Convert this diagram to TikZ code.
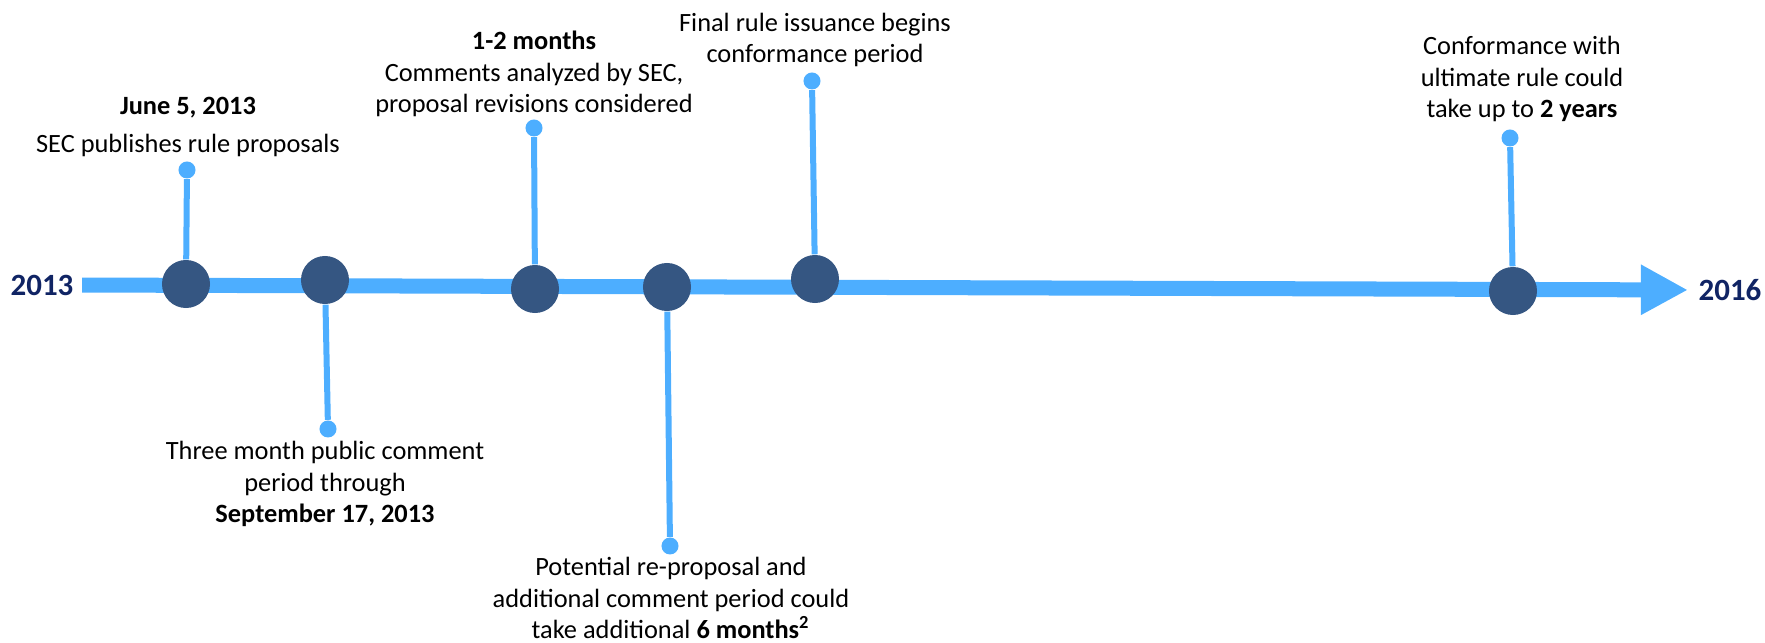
\documentclass[tikz,border=0pt]{standalone}
\usepackage{fontspec}
\setmainfont{Carlito}
\usetikzlibrary{arrows.meta}
\definecolor{lineblue}{RGB}{77,174,255}
\definecolor{eventblue}{RGB}{53,86,130}
\definecolor{yearblue}{RGB}{16,36,100}
\begin{document}
\begin{tikzpicture}[x=0.01cm, y=-0.01cm,
    year/.style={font=\fontsize{8.8}{10}\selectfont\bfseries, text=yearblue, inner sep=0pt},
    event/.style={circle, fill=eventblue, minimum size=0.48cm, inner sep=0pt},
    pin/.style={circle, fill=lineblue, minimum size=0.17cm, inner sep=0pt},
    stem/.style={draw=lineblue, line width=0.06cm},
    label/.style={font=\fontsize{7.5}{9}\selectfont, align=center, anchor=base, inner sep=0pt}]
    \useasboundingbox (0,0) rectangle (1765,643);

    % Years
    \node[year] (y13) at (42,285) {2013};
    \node[year] (y16) at (1730,290) {2016};

    % Time line
    \draw[line width=0.15cm, lineblue, shorten <=0.08cm, shorten >=0.1cm,
        -{Triangle[length=0.47cm, width=0.47cm]}] (y13.east) -- (y16.west);

    % Events
    \node[event] (e1) at (186,284) {};
    \node[event] (e2) at (325,280) {};
    \node[event] (e3) at (535,289) {};
    \node[event] (e4) at (667,287) {};
    \node[event] (e5) at (815,279) {};
    \node[event] (e6) at (1513,291) {};

    % Pins
    \node[pin] (d1) at (187,170) {};
    \node[pin] (d2) at (328,429) {};
    \node[pin] (d3) at (534,128) {};
    \node[pin] (d4) at (670,546) {};
    \node[pin] (d5) at (812,81) {};
    \node[pin] (d6) at (1510,138) {};

    \foreach \i in {1,...,6}
        \draw[stem] (e\i) -- (d\i);

    % Labels (placed at the baseline of the last line)
    \node[label] (t1) at (188,153) {\bfseries June 5, 2013\\[2pt]SEC publishes rule proposals};
    \node[label] (t2) at (325,523) {Three month public comment\\period through\\\bfseries September 17, 2013};
    \node[label] (t3) at (534,113) {\bfseries 1-2 months\\Comments analyzed by SEC,\\proposal revisions considered};
    \node[label] (t4) at (671,639) {Potential re-proposal and\\additional comment period could\\take additional \textbf{6 months\textsuperscript{2}}};
    \node[label] (t5) at (815,63) {Final rule issuance begins\\conformance period};
    \node[label] (t6) at (1522,118) {Conformance with\\ultimate rule could\\take up to \textbf{2 years}};
\end{tikzpicture}
\end{document}
